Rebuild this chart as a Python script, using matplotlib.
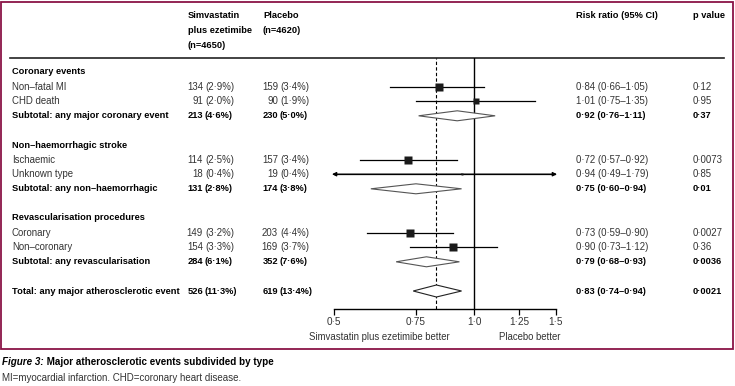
import numpy as np
import matplotlib.pyplot as plt
from matplotlib.patches import Rectangle
from matplotlib.ticker import NullLocator

# fonts: narrow sans to get close to the journal typeface
plt.rcParams['font.family'] = ['Liberation Sans Narrow', 'Liberation Sans', 'DejaVu Sans']

# table rows (None = no value on that row)
row_labels = ['Coronary events', 'Non\u2013fatal MI', 'CHD death',
              'Subtotal: any major coronary event', '',
              'Non\u2013haemorrhagic stroke', 'Ischaemic', 'Unknown type',
              'Subtotal: any non\u2013haemorrhagic', '',
              'Revascularisation procedures', 'Coronary', 'Non\u2013coronary',
              'Subtotal: any revascularisation', '',
              'Total: any major atherosclerotic event']
row_kind = ['head', 'item', 'item', 'sub', 'blank',
            'head', 'item', 'item', 'sub', 'blank',
            'head', 'item', 'item', 'sub', 'blank',
            'total']
sim_events = [None, 134, 91, 213, None, None, 114, 18, 131, None, None, 149, 154, 284, None, 526]
sim_pct = [None, 2.9, 2.0, 4.6, None, None, 2.5, 0.4, 2.8, None, None, 3.2, 3.3, 6.1, None, 11.3]
pla_events = [None, 159, 90, 230, None, None, 157, 19, 174, None, None, 203, 169, 352, None, 619]
pla_pct = [None, 3.4, 1.9, 5.0, None, None, 3.4, 0.4, 3.8, None, None, 4.4, 3.7, 7.6, None, 13.4]
rr = [None, 0.84, 1.01, 0.92, None, None, 0.72, 0.94, 0.75, None, None, 0.73, 0.90, 0.79, None, 0.83]
rr_lo = [None, 0.66, 0.75, 0.76, None, None, 0.57, 0.49, 0.60, None, None, 0.59, 0.73, 0.68, None, 0.74]
rr_hi = [None, 1.05, 1.35, 1.11, None, None, 0.92, 1.79, 0.94, None, None, 0.90, 1.12, 0.93, None, 0.94]
p_values = [None, '0\u00b712', '0\u00b795', '0\u00b737', None, None, '0\u00b70073', '0\u00b785',
            '0\u00b701', None, None, '0\u00b70027', '0\u00b736', '0\u00b70036', None, '0\u00b70021']

x_ticks = [0.5, 0.75, 1.0, 1.25, 1.5]
x_ticklabels = ['0\u00b75', '0\u00b775', '1\u00b70', '1\u00b725', '1\u00b75']


def dot(v, nd):
    # lancet style middle dot decimals
    return f'{v:.{nd}f}'.replace('.', '\u00b7')


W, H = 735, 386
fig = plt.figure(figsize=(W / 100, H / 100), dpi=100)

# background axes in pixel coordinates for all the text
bg = fig.add_axes([0, 0, 1, 1])
bg.set_xlim(0, W)
bg.set_ylim(H, 0)
bg.axis('off')

dark = '#333333'
fs = 6.9
fsb = 6.7

# frame and header rule
bg.add_patch(Rectangle((1.5, 2), 731.5, 347, fill=False, edgecolor='#8a1446', lw=1.3))
bg.plot([10, 724], [58, 58], color='#222222', lw=1.2)

# column headers
for i, t in enumerate(['Simvastatin', 'plus ezetimibe', '(n=4650)']):
    bg.text(188, 16 + 14.5 * i, t, fontsize=fsb, fontweight='bold', va='center')
for i, t in enumerate(['Placebo', '(n=4620)']):
    bg.text(263, 16 + 14.5 * i, t, fontsize=fsb, fontweight='bold', va='center')
bg.text(576, 16, 'Risk ratio (95% CI)', fontsize=fsb, fontweight='bold', va='center')
bg.text(693, 16, 'p value', fontsize=fsb, fontweight='bold', va='center')

row_y = [72 + 14.6 * i for i in range(len(row_labels))]

for i, lab in enumerate(row_labels):
    y = row_y[i]
    kind = row_kind[i]
    if kind == 'blank':
        continue
    bold = kind in ('head', 'sub', 'total')
    fw = 'bold' if bold else 'normal'
    col = 'black' if bold else dark
    f = fsb if bold else fs
    bg.text(12, y, lab, fontsize=f, fontweight=fw, color=col, va='center')
    if sim_events[i] is None:
        continue
    bg.text(203, y, str(sim_events[i]), fontsize=f, fontweight=fw, color=col, va='center', ha='right')
    bg.text(205, y, '(' + dot(sim_pct[i], 1) + '%)', fontsize=f, fontweight=fw, color=col, va='center')
    bg.text(278, y, str(pla_events[i]), fontsize=f, fontweight=fw, color=col, va='center', ha='right')
    bg.text(280, y, '(' + dot(pla_pct[i], 1) + '%)', fontsize=f, fontweight=fw, color=col, va='center')
    ci = dot(rr[i], 2) + ' (' + dot(rr_lo[i], 2) + '\u2013' + dot(rr_hi[i], 2) + ')'
    bg.text(576, y, ci, fontsize=f, fontweight=fw, color=col, va='center')
    bg.text(693, y, p_values[i], fontsize=f, fontweight=fw, color=col, va='center')

# forest plot axes, log scale, y in the same pixel rows
xmin, xmax = 0.5, 1.5
fa = fig.add_axes([334 / W, 1 - 309 / H, 222 / W, (309 - 58) / H])
fa.set_xscale('log')
fa.set_xlim(xmin, xmax)
fa.set_ylim(309, 58)
fa.patch.set_alpha(0)
for s in ['top', 'left', 'right']:
    fa.spines[s].set_visible(False)
fa.spines['bottom'].set_linewidth(1.0)
fa.set_yticks([])
fa.set_xticks(x_ticks)
fa.set_xticklabels(x_ticklabels)
fa.xaxis.set_minor_locator(NullLocator())
fa.tick_params(axis='x', direction='out', length=4, width=0.9, pad=2, labelsize=7.2, labelcolor=dark)

overall = rr[-1]
fa.axvline(1.0, color='black', lw=1.0)
fa.axvline(overall, color='black', lw=0.8, ls=(0, (3, 2)))

for i in range(len(row_labels)):
    if rr[i] is None:
        continue
    y = row_y[i]
    kind = row_kind[i]
    if kind == 'item':
        lo = max(rr_lo[i], xmin)
        hi = min(rr_hi[i], xmax)
        fa.plot([lo, hi], [y, y], color='black', lw=0.9)
        if rr_lo[i] < xmin:
            fa.annotate('', xy=(xmin * 0.99, y), xytext=(rr[i], y), annotation_clip=False,
                        arrowprops=dict(arrowstyle='-|>', color='black', lw=0.9,
                                        mutation_scale=6, shrinkA=0, shrinkB=0))
        if rr_hi[i] > xmax:
            fa.annotate('', xy=(xmax * 1.005, y), xytext=(rr[i], y), annotation_clip=False,
                        arrowprops=dict(arrowstyle='-|>', color='black', lw=0.9,
                                        mutation_scale=6, shrinkA=0, shrinkB=0))
        # square side scaled with sqrt of total events
        side = 0.45 * np.sqrt(sim_events[i] + pla_events[i])
        fa.plot(rr[i], y, marker='s', ms=side * 0.72, color='#1a1a1a', mec='none', zorder=4)
    else:
        h = 6 if kind == 'total' else 5
        edge = '#222222' if kind == 'total' else '#555555'
        fa.fill([rr_lo[i], rr[i], rr_hi[i], rr[i]], [y, y - h, y, y + h],
                facecolor='white', edgecolor=edge, lw=0.8, zorder=3)

bg.text(379, 337, 'Simvastatin plus ezetimibe better', fontsize=fs, color=dark, va='center', ha='center')
bg.text(530, 337, 'Placebo better', fontsize=fs, color=dark, va='center', ha='center')

# caption
cap = bg.text(2, 362, 'Figure 3:', fontsize=7.1, fontstyle='italic', fontweight='bold', va='center')
bg.annotate(' Major atherosclerotic events subdivided by type', xy=(1, 0.5), xycoords=cap,
            fontsize=7.1, fontweight='bold', va='center', ha='left')
bg.text(2, 378, 'MI=myocardial infarction. CHD=coronary heart disease.', fontsize=7.0, color=dark, va='center')

fig.savefig('out.png', dpi=100)
